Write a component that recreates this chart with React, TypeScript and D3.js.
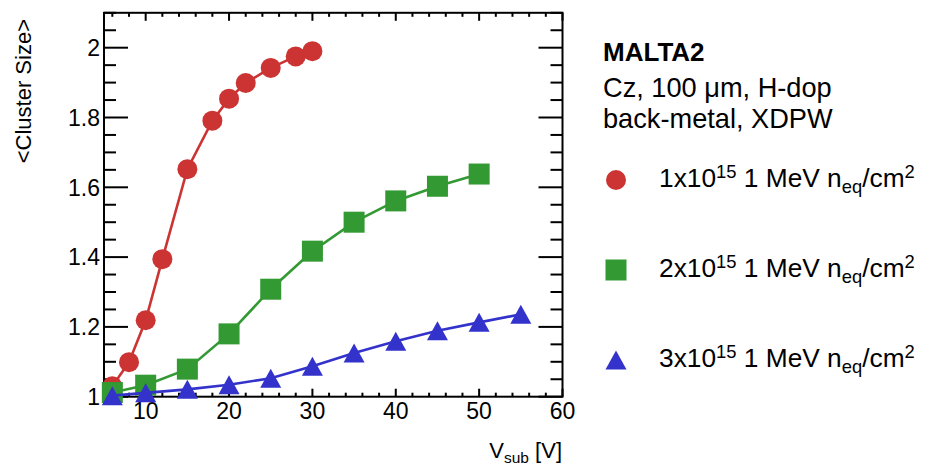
import { useEffect, useRef } from 'react'
import * as d3 from 'd3'

// fluence points: V_sub [V] and mean cluster size
const vRed = [6, 8, 10, 12, 15, 18, 20, 22, 25, 28, 30]
const csRed = [1.03, 1.099, 1.219, 1.394, 1.652, 1.791, 1.854, 1.899, 1.942, 1.975, 1.99]
const vGreen = [6, 10, 15, 20, 25, 30, 35, 40, 45, 50]
const csGreen = [1.012, 1.033, 1.079, 1.18, 1.308, 1.417, 1.5, 1.561, 1.603, 1.638]
const vBlue = [6, 10, 15, 20, 25, 30, 35, 40, 45, 50, 55]
const csBlue = [1.003, 1.011, 1.021, 1.034, 1.053, 1.087, 1.125, 1.159, 1.189, 1.213, 1.236]

const xTicks = [10, 20, 30, 40, 50, 60]
const yTicks = [1, 1.2, 1.4, 1.6, 1.8, 2]
const headerLines = ['MALTA2', 'Cz, 100 μm, H-dop', 'back-metal, XDPW']
const fluences = ['1', '2', '3']

const FONT = '"Liberation Sans", Arial, Helvetica, sans-serif'
const RED = '#cc3333'
const GREEN = '#339933'
const BLUE = '#3333cc'

type Pt = { v: number; cs: number }
const zip = (v: number[], cs: number[]): Pt[] => v.map((d, i) => ({ v: d, cs: cs[i] }))

export default function App() {
  const ref = useRef<SVGSVGElement | null>(null)
  useEffect(() => {
    const svg = d3.select(ref.current)
    svg.selectAll('*').remove()
    const width = 930
    const height = 465
    svg.attr('width', width).attr('height', height)
    svg.append('rect').attr('width', width).attr('height', height).attr('fill', '#fff')

    const left = 104
    const right = 562.5
    const top = 12.8
    const bottom = 396.7
    const x = d3.scaleLinear().domain([5, 60]).range([left, right])
    const y = d3.scaleLinear().domain([1, 2.1]).range([bottom, top])

    const axes = svg.append('g').attr('stroke', '#000').attr('stroke-width', 2)
    // x ticks (bottom and top), minor every 2
    for (let v = 6; v <= 60; v += 2) {
      const major = v % 10 === 0
      const len = major ? 8 : 4
      const px = x(v)
      axes.append('line').attr('x1', px).attr('x2', px).attr('y1', bottom).attr('y2', bottom - len)
      axes.append('line').attr('x1', px).attr('x2', px).attr('y1', top).attr('y2', top + len)
    }
    // y ticks (left and right), minor every 0.05
    for (let i = 0; i <= 22; i++) {
      const v = 1 + i * 0.05
      const major = i % 4 === 0
      const len = major ? 24 : 12
      const py = y(v)
      axes.append('line').attr('x1', left).attr('x2', left + len).attr('y1', py).attr('y2', py)
      axes.append('line').attr('x1', right).attr('x2', right - len).attr('y1', py).attr('y2', py)
    }
    axes.append('rect')
      .attr('x', left).attr('y', top)
      .attr('width', right - left).attr('height', bottom - top)
      .attr('fill', 'none')

    const labels = svg.append('g').attr('font-family', FONT).attr('fill', '#000')
    labels.selectAll(null).data(xTicks).enter().append('text')
      .attr('x', (d) => x(d)).attr('y', 419)
      .attr('text-anchor', 'middle').attr('font-size', 23)
      .text((d) => String(d))
    labels.selectAll(null).data(yTicks).enter().append('text')
      .attr('x', 100).attr('y', (d) => y(d) + 8.2)
      .attr('text-anchor', 'end').attr('font-size', 23)
      .text((d) => d3.format('~g')(d))

    labels.append('text')
      .attr('transform', 'translate(31,19) rotate(-90)')
      .attr('text-anchor', 'end').attr('font-size', 22)
      .text('<Cluster Size>')

    const xt = labels.append('text').attr('x', 562).attr('y', 458.3)
      .attr('text-anchor', 'end').attr('font-size', 22)
    xt.append('tspan').text('V')
    xt.append('tspan').attr('font-size', 15.5).attr('dy', 4.5).text('sub')
    xt.append('tspan').attr('dy', -4.5).text(' [V]')

    const line = d3.line<Pt>().x((d) => x(d.v)).y((d) => y(d.cs))

    const drawMarker = (g: d3.Selection<SVGGElement, unknown, null, undefined>, shape: string, cx: number, cy: number, color: string) => {
      if (shape === 'circle') {
        g.append('circle').attr('cx', cx).attr('cy', cy).attr('r', 10).attr('fill', color)
      } else if (shape === 'square') {
        g.append('rect').attr('x', cx - 10.5).attr('y', cy - 10.5).attr('width', 21).attr('height', 21).attr('fill', color)
      } else {
        g.append('path')
          .attr('d', `M${cx - 10.5},${cy + 9.5}L${cx + 10.5},${cy + 9.5}L${cx},${cy - 9.5}Z`)
          .attr('fill', color)
      }
    }

    const series = [
      { pts: zip(vRed, csRed), color: RED, shape: 'circle' },
      { pts: zip(vGreen, csGreen), color: GREEN, shape: 'square' },
      { pts: zip(vBlue, csBlue), color: BLUE, shape: 'triangle' },
    ]
    for (const s of series) {
      const g = svg.append('g')
      g.append('path').datum(s.pts)
        .attr('fill', 'none').attr('stroke', s.color).attr('stroke-width', 2.6)
        .attr('d', line)
      for (const p of s.pts) drawMarker(g, s.shape, x(p.v), y(p.cs), s.color)
    }

    // legend
    const leg = svg.append('g').attr('font-family', FONT).attr('fill', '#000').attr('font-size', 26.3)
    const headerY = [61, 96.5, 128.3]
    headerLines.forEach((t, i) => {
      leg.append('text').attr('x', 603).attr('y', headerY[i])
        .attr('font-size', i === 0 ? 26 : 27.2)
        .attr('font-weight', i === 0 ? 'bold' : 'normal').text(t)
    })
    const entryY = [180, 270, 360]
    series.forEach((s, i) => {
      const g = leg.append('g')
      drawMarker(g, s.shape, 616, entryY[i], s.color)
      const t = leg.append('text').attr('x', 659).attr('y', entryY[i] + 7)
      t.append('tspan').text(`${fluences[i]}x10`)
      t.append('tspan').attr('font-size', 18.4).attr('dy', -9.5).text('15')
      t.append('tspan').attr('dy', 9.5).text(' 1 MeV n')
      t.append('tspan').attr('font-size', 18.4).attr('dy', 6.3).text('eq')
      t.append('tspan').attr('dy', -6.3).text('/cm')
      t.append('tspan').attr('font-size', 18.4).attr('dy', -9.5).text('2')
    })
  }, [])
  return <svg ref={ref} style={{ position: 'absolute', left: 0, top: 0 }} />
}
